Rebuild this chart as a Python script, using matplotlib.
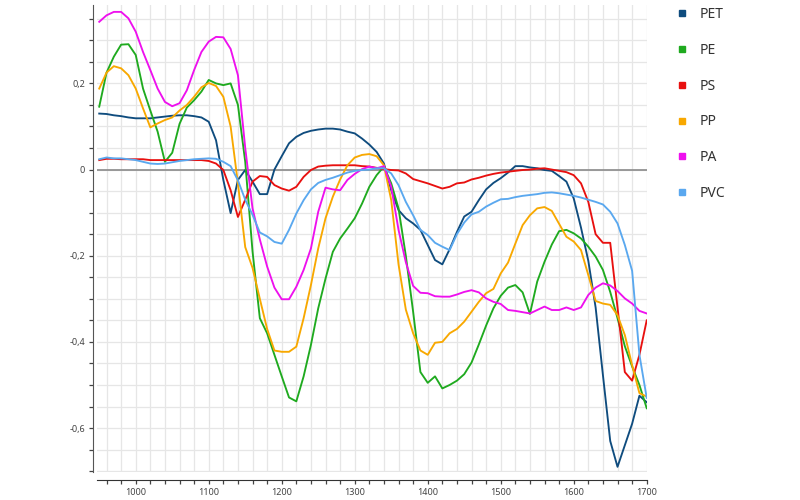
import matplotlib
matplotlib.use("Agg")
import matplotlib.pyplot as plt
from matplotlib.ticker import MultipleLocator, FuncFormatter
from matplotlib.lines import Line2D

plt.rcParams["font.family"] = ["Noto Sans", "DejaVu Sans"]

# wavenumber axis (cm-1), read every 10 units
wavenumber = list(range(950, 1701, 10))

pet = [0.130, 0.129, 0.126, 0.124, 0.121, 0.119, 0.119, 0.119, 0.121, 0.123,
       0.125, 0.126, 0.126, 0.124, 0.121, 0.111, 0.068, -0.024, -0.101, -0.024,
       -0.001, -0.028, -0.057, -0.057, 0.000, 0.031, 0.061, 0.076, 0.085, 0.090,
       0.093, 0.095, 0.095, 0.093, 0.088, 0.084, 0.072, 0.058, 0.041, 0.014,
       -0.048, -0.094, -0.113, -0.125, -0.140, -0.175, -0.210, -0.220, -0.185, -0.145,
       -0.109, -0.098, -0.071, -0.046, -0.031, -0.020, -0.007, 0.008, 0.008, 0.005,
       0.003, -0.001, -0.003, -0.015, -0.028, -0.067, -0.135, -0.212, -0.320, -0.477,
       -0.630, -0.690, -0.640, -0.590, -0.525, -0.540]

pe = [0.146, 0.225, 0.262, 0.290, 0.291, 0.266, 0.188, 0.137, 0.088, 0.018,
      0.039, 0.106, 0.144, 0.161, 0.181, 0.208, 0.200, 0.196, 0.200, 0.150,
      0.018, -0.190, -0.345, -0.380, -0.430, -0.480, -0.529, -0.538, -0.480, -0.407,
      -0.322, -0.253, -0.191, -0.160, -0.137, -0.113, -0.079, -0.040, -0.013, 0.007,
      -0.032, -0.090, -0.200, -0.330, -0.470, -0.495, -0.480, -0.508, -0.500, -0.490,
      -0.475, -0.448, -0.406, -0.362, -0.322, -0.293, -0.274, -0.268, -0.285, -0.335,
      -0.260, -0.214, -0.174, -0.143, -0.140, -0.148, -0.160, -0.179, -0.202, -0.233,
      -0.284, -0.345, -0.410, -0.457, -0.500, -0.554]

ps = [0.022, 0.025, 0.025, 0.024, 0.024, 0.024, 0.024, 0.022, 0.022, 0.022,
      0.022, 0.022, 0.022, 0.022, 0.022, 0.020, 0.014, -0.001, -0.048, -0.110,
      -0.070, -0.028, -0.015, -0.017, -0.036, -0.044, -0.049, -0.040, -0.017, -0.001,
      0.007, 0.009, 0.010, 0.010, 0.010, 0.010, 0.008, 0.007, 0.004, 0.001,
      -0.001, -0.002, -0.009, -0.022, -0.027, -0.032, -0.038, -0.044, -0.040, -0.032,
      -0.030, -0.023, -0.019, -0.014, -0.010, -0.007, -0.005, -0.003, -0.001, 0.000,
      0.002, 0.003, 0.000, -0.003, -0.006, -0.013, -0.032, -0.075, -0.150, -0.170,
      -0.170, -0.320, -0.470, -0.490, -0.430, -0.350]

pp = [0.188, 0.225, 0.240, 0.235, 0.219, 0.188, 0.142, 0.098, 0.107, 0.115,
      0.121, 0.137, 0.150, 0.169, 0.191, 0.201, 0.194, 0.169, 0.100, -0.032,
      -0.180, -0.228, -0.300, -0.370, -0.420, -0.423, -0.423, -0.411, -0.345, -0.268,
      -0.183, -0.113, -0.063, -0.023, 0.010, 0.028, 0.034, 0.036, 0.031, 0.010,
      -0.071, -0.220, -0.325, -0.380, -0.420, -0.430, -0.402, -0.400, -0.380, -0.370,
      -0.353, -0.330, -0.307, -0.287, -0.277, -0.241, -0.216, -0.172, -0.129, -0.106,
      -0.090, -0.087, -0.096, -0.126, -0.156, -0.167, -0.187, -0.245, -0.305, -0.311,
      -0.314, -0.338, -0.384, -0.454, -0.519, -0.527]

pa = [0.343, 0.358, 0.366, 0.366, 0.351, 0.320, 0.273, 0.231, 0.188, 0.157,
      0.147, 0.154, 0.184, 0.231, 0.273, 0.297, 0.308, 0.307, 0.280, 0.219,
      0.050, -0.090, -0.162, -0.225, -0.274, -0.301, -0.301, -0.272, -0.233, -0.183,
      -0.098, -0.042, -0.046, -0.048, -0.024, -0.010, 0.001, 0.007, 0.003, 0.008,
      -0.040, -0.140, -0.215, -0.270, -0.286, -0.287, -0.294, -0.295, -0.295, -0.290,
      -0.284, -0.280, -0.285, -0.299, -0.307, -0.312, -0.326, -0.328, -0.331, -0.334,
      -0.326, -0.318, -0.326, -0.326, -0.320, -0.326, -0.320, -0.291, -0.274, -0.264,
      -0.269, -0.282, -0.299, -0.311, -0.328, -0.334]

pvc = [0.024, 0.028, 0.026, 0.026, 0.024, 0.022, 0.018, 0.014, 0.013, 0.014,
       0.017, 0.020, 0.022, 0.024, 0.025, 0.026, 0.025, 0.018, 0.008, -0.025,
       -0.070, -0.105, -0.146, -0.155, -0.168, -0.172, -0.140, -0.102, -0.071, -0.046,
       -0.031, -0.024, -0.019, -0.013, -0.007, -0.003, -0.001, 0.000, 0.003, 0.003,
       -0.009, -0.036, -0.075, -0.106, -0.140, -0.152, -0.170, -0.179, -0.187, -0.150,
       -0.123, -0.104, -0.098, -0.086, -0.077, -0.069, -0.068, -0.064, -0.061, -0.059,
       -0.057, -0.054, -0.053, -0.055, -0.058, -0.061, -0.065, -0.070, -0.075, -0.081,
       -0.098, -0.125, -0.175, -0.235, -0.430, -0.530]

names = ["PET", "PE", "PS", "PP", "PA", "PVC"]
colors = ["#0f4c7e", "#1faa1f", "#e8100f", "#f8a800", "#ee10ee", "#5aa8ef"]
series = [pet, pe, ps, pp, pa, pvc]

fig = plt.figure(figsize=(8, 5), dpi=100)
ax = fig.add_axes([0.1213, 0.056, 0.6871, 0.934])

for ys, c in zip(series, colors):
    ax.plot(wavenumber, ys, color=c, lw=1.35, zorder=3,
            solid_joinstyle="round")

ax.axhline(0, color="#8a8a8a", lw=1.2, zorder=2)

ax.set_xlim(947, 1700)
ax.set_ylim(-0.702, 0.382)

ax.xaxis.set_major_locator(MultipleLocator(100))
ax.xaxis.set_minor_locator(MultipleLocator(20))
ax.yaxis.set_major_locator(MultipleLocator(0.2))
ax.yaxis.set_minor_locator(MultipleLocator(0.05))


def comma_fmt(v, pos):
    if abs(v) < 1e-9:
        return "0"
    return f"{v:.1f}".replace(".", ",")


ax.yaxis.set_major_formatter(FuncFormatter(comma_fmt))

ax.grid(which="both", color="#e6e6e6", lw=0.9, zorder=0)
ax.set_axisbelow(True)

for side in ["top", "right"]:
    ax.spines[side].set_visible(False)
ax.spines["bottom"].set_position(("outward", 6))
ax.spines["left"].set_position(("outward", 3))
ax.spines["bottom"].set_color("#333333")
ax.spines["left"].set_color("#555555")

ax.tick_params(which="both", direction="out", length=3, width=0.9,
               colors="#444444", labelsize=6.5, labelcolor="#444444", pad=2.5)

handles = [Line2D([], [], marker="s", ls="none", color=c, markersize=5)
           for c in colors]
fig.legend(handles, names, loc="upper left", bbox_to_anchor=(0.835, 1.0),
           frameon=False, borderpad=0, handlelength=1.0, handletextpad=0.75,
           labelspacing=1.5, fontsize=10, labelcolor="#333333")

fig.savefig("out.png", dpi=100)
